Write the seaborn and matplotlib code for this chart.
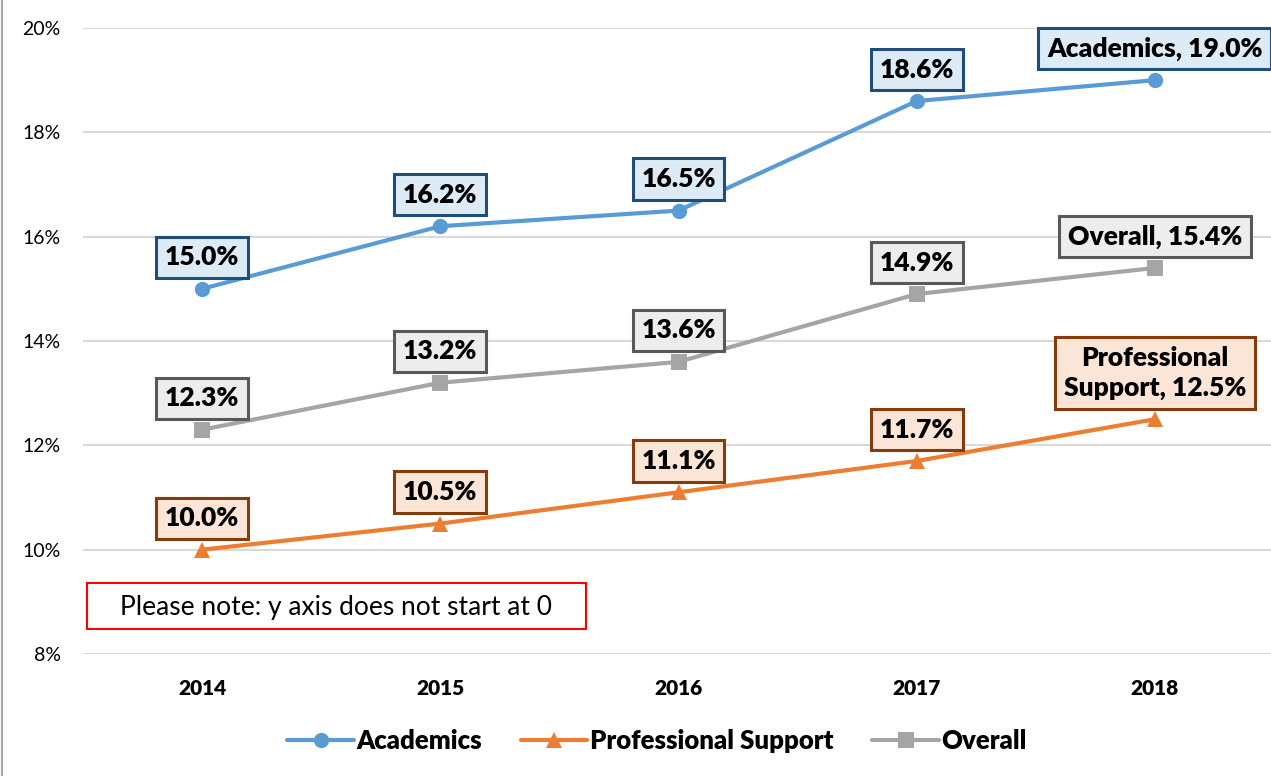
import pandas as pd
import numpy as np
import matplotlib.pyplot as plt
import seaborn as sns
from matplotlib.patches import Rectangle
from matplotlib.lines import Line2D

years = ['2014', '2015', '2016', '2017', '2018']
academics = [15.0, 16.2, 16.5, 18.6, 19.0]
professional = [10.0, 10.5, 11.1, 11.7, 12.5]
overall = [12.3, 13.2, 13.6, 14.9, 15.4]
series_names = ['Academics', 'Professional Support', 'Overall']
last_labels = ['Academics, 19.0%', 'Professional\nSupport, 12.5%', 'Overall, 15.4%']
y_ticks = [8, 10, 12, 14, 16, 18, 20]

colors = {'Academics': '#5B9BD5', 'Professional Support': '#ED7D31', 'Overall': '#A5A5A5'}
markers = {'Academics': 'o', 'Professional Support': '^', 'Overall': 's'}
box_face = {'Academics': '#DDEBF7', 'Professional Support': '#FBE5D6', 'Overall': '#EDEDED'}
box_edge = {'Academics': '#1F4E79', 'Professional Support': '#843C0C', 'Overall': '#595959'}

df = pd.DataFrame({
    'year': years * 3,
    'value': academics + professional + overall,
    'series': np.repeat(series_names, len(years)),
})

sns.set_style('white')
plt.rcParams['font.family'] = ['Lato', 'DejaVu Sans']
plt.rcParams['text.color'] = 'black'
plt.rcParams['xtick.color'] = 'black'
plt.rcParams['ytick.color'] = 'black'

fig = plt.figure(figsize=(12.71, 7.76), dpi=100)
ax = fig.add_axes([83 / 1271, 122 / 776, 1191 / 1271, 626 / 776])

sns.lineplot(data=df, x='year', y='value', hue='series', style='series',
             palette=colors, markers=markers, dashes=False, linewidth=3,
             markersize=11, markeredgewidth=0, legend=False, ax=ax)

ax.set_xlim(-0.5, len(years) - 0.5)
ax.set_ylim(8, 20)
ax.set_yticks(y_ticks)
ax.set_yticklabels([f'{t}%' for t in y_ticks], fontsize=14)
ax.tick_params(axis='y', length=0, pad=16, labelcolor='black')
ax.tick_params(axis='x', length=0, pad=18, labelcolor='black')
for lab in ax.get_xticklabels():
    lab.set_fontweight('heavy')
    lab.set_fontsize(15)
ax.grid(axis='y', color='#D9D9D9', linewidth=1.5)
ax.set_axisbelow(True)
for s in ax.spines.values():
    s.set_visible(False)
ax.set_xlabel('')
ax.set_ylabel('')

# data labels
for name, vals, last in zip(series_names, [academics, professional, overall], last_labels):
    for i, v in enumerate(vals):
        txt = last if i == len(vals) - 1 else f'{v:.1f}%'
        ax.annotate(txt, (i, v), xytext=(0, 14), textcoords='offset points',
                    ha='center', va='bottom', fontsize=19, fontweight='heavy',
                    color='black', linespacing=1.3, annotation_clip=False, zorder=5,
                    bbox=dict(boxstyle='square,pad=0.33', fc=box_face[name],
                              ec=box_edge[name], lw=2.2))

# legend
handles = [Line2D([], [], color=colors[n], marker=markers[n], lw=3, markersize=11,
                  markeredgewidth=0) for n in series_names]
fig.legend(handles, series_names, loc='center', bbox_to_anchor=(657 / 1271, 1 - 741 / 776),
           ncol=3, frameon=False, handlelength=2.6, handletextpad=0.1, columnspacing=1.5,
           prop={'weight': 'heavy', 'size': 18.5})

# note box
fig.patches.append(Rectangle((87 / 1271, 1 - 629 / 776), 499 / 1271, 46 / 776,
                             transform=fig.transFigure, fill=False, ec='#FF0000', lw=1.5))
fig.text(336 / 1271, 1 - 607 / 776, 'Please note: y axis does not start at 0',
         ha='center', va='center', fontsize=19)

# chart border at left
fig.add_artist(Line2D([2 / 1271, 2 / 1271], [0, 1], transform=fig.transFigure,
                      color='#A6A6A6', lw=1.5))

fig.savefig('out.png', dpi=100)
